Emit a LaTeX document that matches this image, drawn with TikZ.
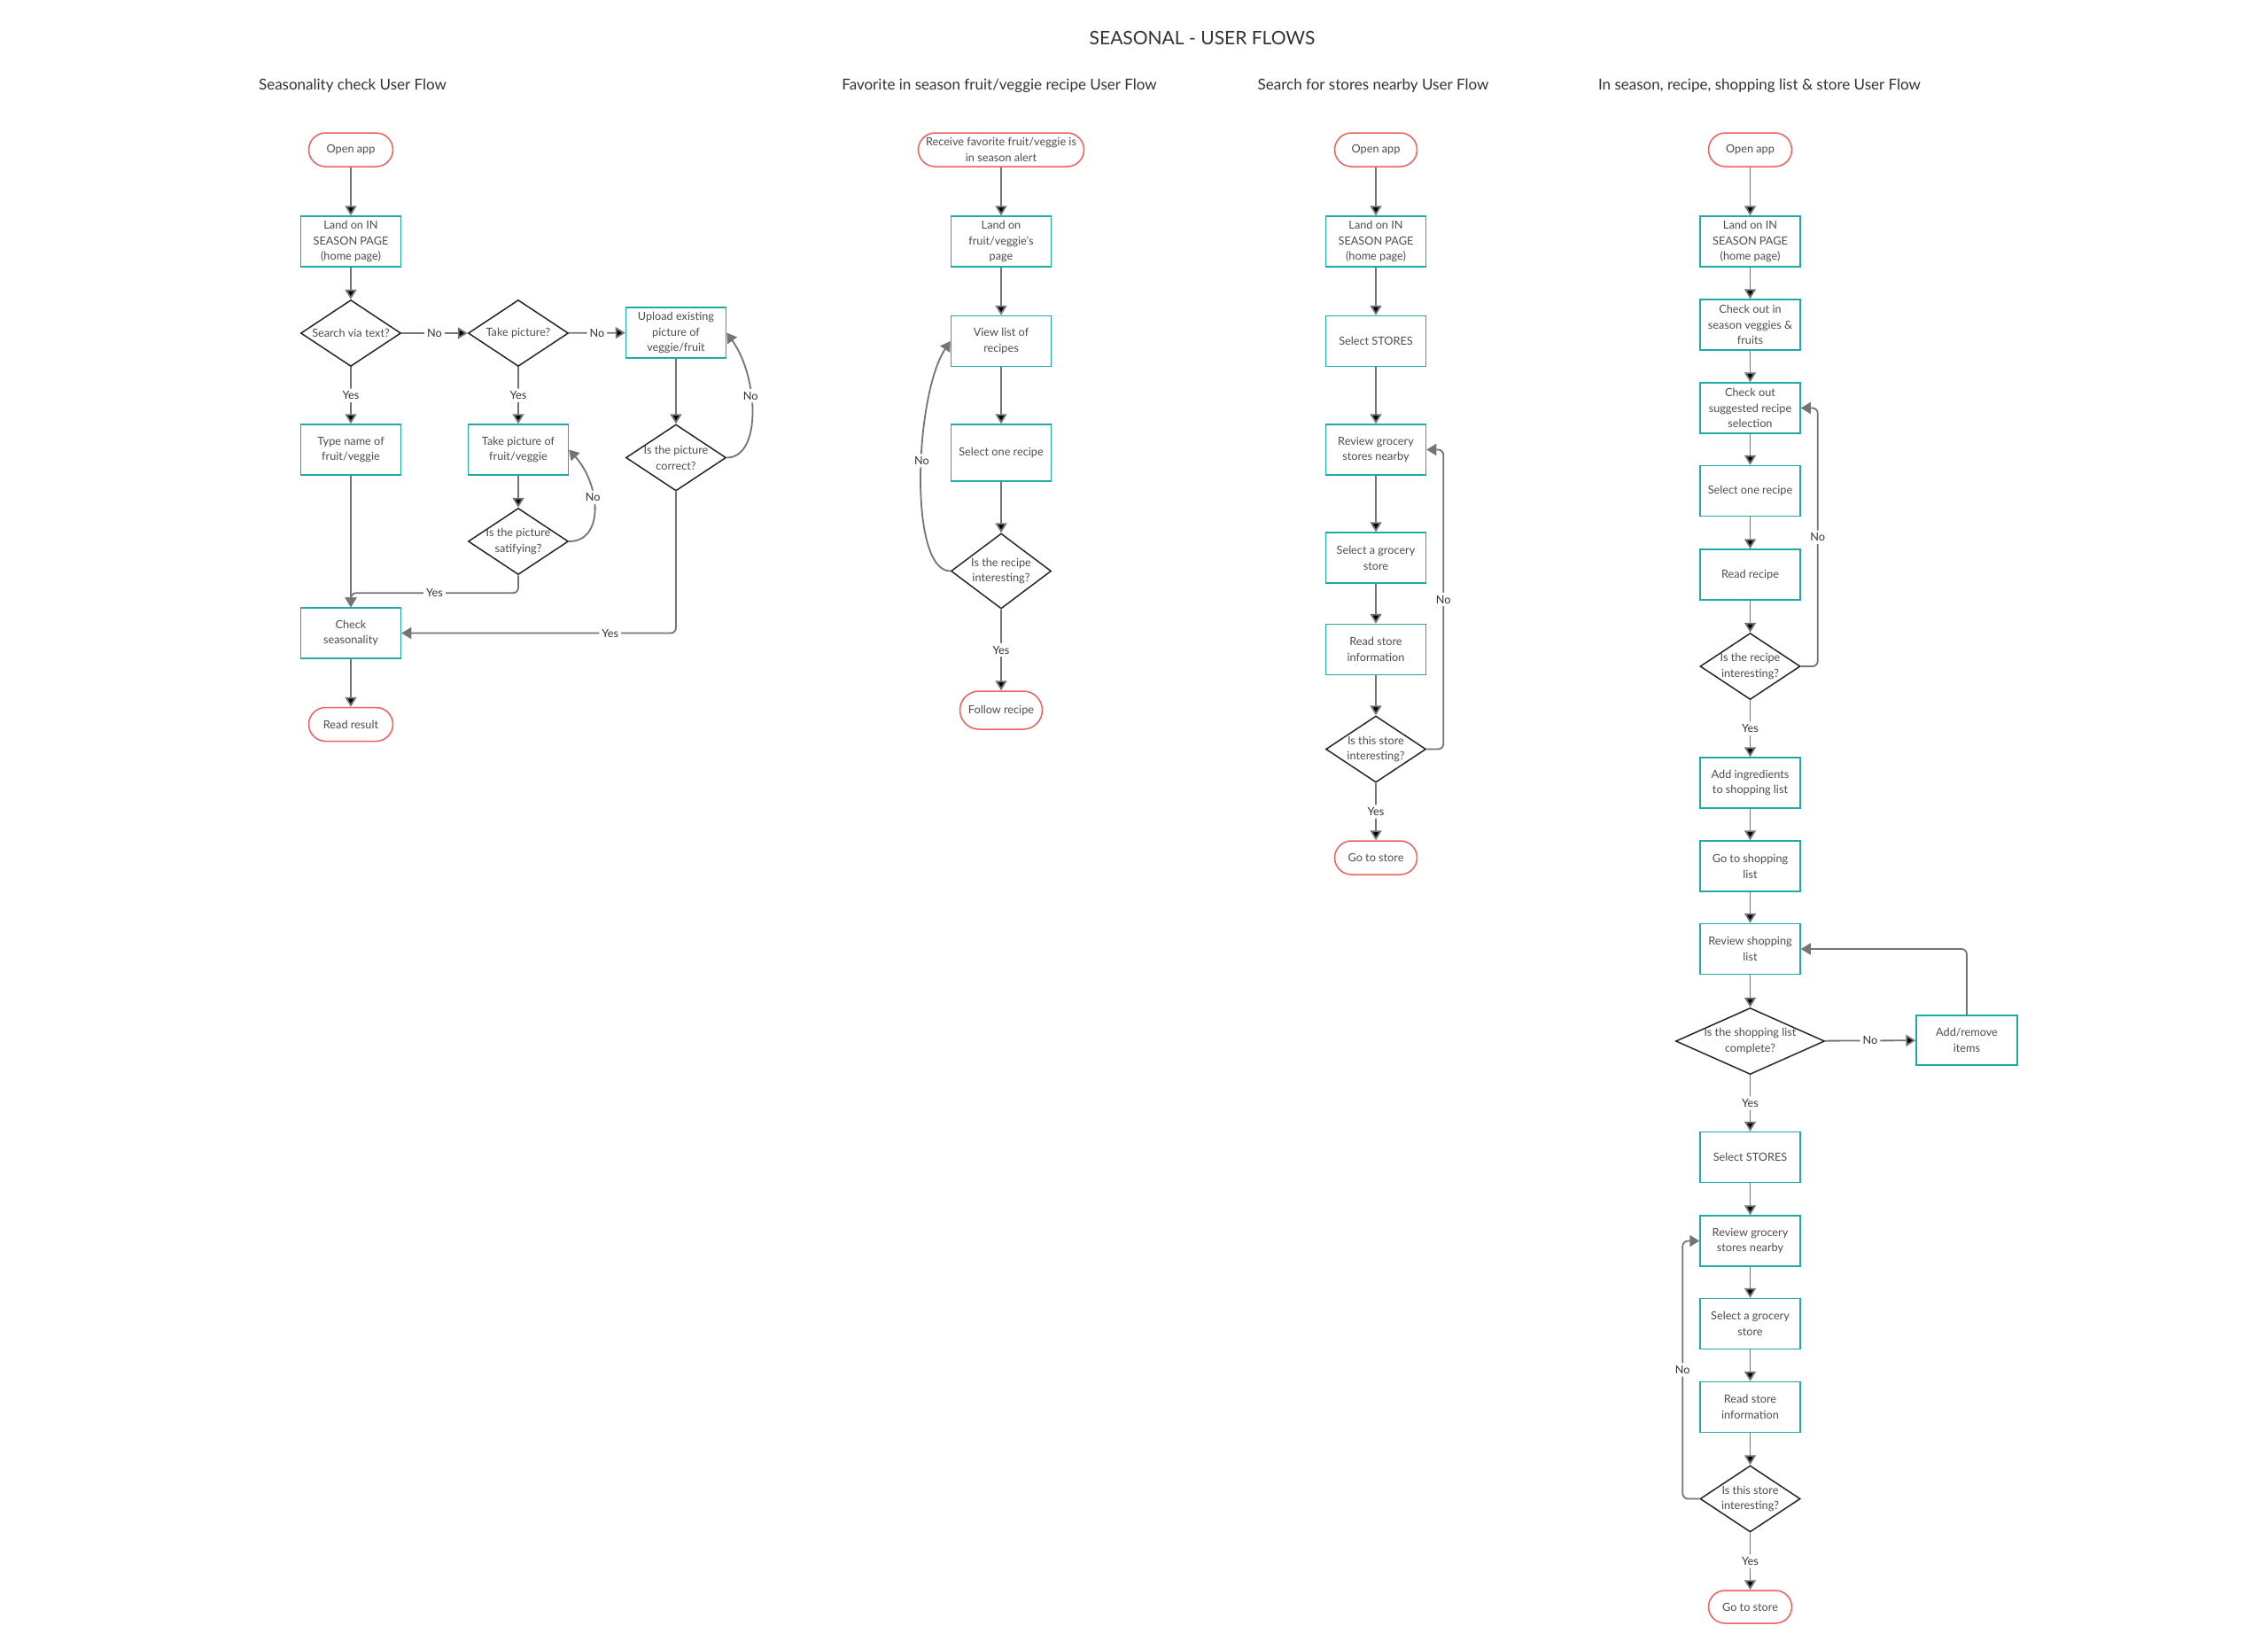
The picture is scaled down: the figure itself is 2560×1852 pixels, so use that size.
\documentclass[tikz,border=0pt]{standalone}
\usepackage{fontspec}
\setmainfont{Lato}
\usetikzlibrary{shapes.geometric,arrows.meta,calc}

\definecolor{boxteal}{HTML}{1FAAA7}
\definecolor{termred}{HTML}{F0605F}
\definecolor{linegray}{HTML}{747474}
\definecolor{txtgray}{HTML}{4D4D4D}
\definecolor{ttlgray}{HTML}{333333}

\tikzset{
  txt/.style={font=\fontsize{12.7}{17.8}\selectfont, text=txtgray, align=center},
  term/.style={txt, draw=termred, line width=1.5pt, rounded corners=19pt, minimum width=95pt, minimum height=38pt, inner sep=0pt},
  stepbox/.style={txt, draw=boxteal, line width=1.5pt, minimum width=113pt, minimum height=57pt, inner sep=0pt},
  decision/.style={diamond, draw=black!85, line width=1.5pt, minimum width=113pt, minimum height=75pt, inner sep=0pt},
  flow/.style={draw=linegray, line width=1.8pt, -{Triangle[width=13pt,length=11pt]}, rounded corners=6pt},
  lbl/.style={txt, text=ttlgray, fill=white, inner sep=3pt},
  ttl/.style={font=\fontsize{17}{20}\selectfont, text=ttlgray},
}

\begin{document}
\begin{tikzpicture}[x=1pt,y=-1pt]
\fill[white] (0,0) rectangle (2560,1852);
\useasboundingbox (0,0) rectangle (2560,1852);
%%
 \node (title) at (1357,43) [font=\fontsize{21}{24}\selectfont, text=ttlgray] {SEASONAL - USER FLOWS};
 \node (ttl_1) at (398,97) [ttl] {Seasonality check User Flow};
 \node (ttl_2) at (1128,97) [ttl] {Favorite in season fruit/veggie recipe User Flow};
 \node (ttl_3) at (1550,97) [ttl] {Search for stores nearby User Flow};
 \node (ttl_4) at (1986,97) [ttl] {In season, recipe, shopping list \& store User Flow};
%% seasonality check
 \node (f1_open) at (396,169) [term] {Open app};
 \node (f1_land) at (396,272.5) [stepbox] {Land on IN\\SEASON PAGE\\(home page)};
 \node (f1_q1) at (396,376) [decision, label={[txt]center:Search via text?}] {};
 \node (f1_q2) at (585,376) [decision, label={[txt]center:Take picture?}] {};
 \node (f1_upload) at (763,375.5) [stepbox] {Upload existing\\picture of\\veggie/fruit};
 \node (f1_type) at (396,507.5) [stepbox] {Type name of\\fruit/veggie};
 \node (f1_takepic) at (585,507.5) [stepbox] {Take picture of\\fruit/veggie};
 \node (f1_q4) at (763,516.5) [decision, label={[txt]center:Is the picture\\correct?}] {};
 \node (f1_q3) at (585,611) [decision, label={[txt]center:Is the picture\\satifying?}] {};
 \node (f1_check) at (396,714.5) [stepbox] {Check\\seasonality};
 \node (f1_read) at (396,817.5) [term] {Read result};

  \draw [flow] (f1_open) edge (f1_land);
  \draw [flow] (f1_land) edge (f1_q1);
  \draw [flow] (f1_q1) edge node[lbl] {No} (f1_q2);
  \draw [flow] (f1_q2) edge node[lbl] {No} (f1_upload);
  \draw [flow] (f1_q1) edge node[lbl] {Yes} (f1_type);
  \draw [flow] (f1_q2) edge node[lbl] {Yes} (f1_takepic);
  \draw [flow] (f1_upload) edge (f1_q4);
  \draw [flow] (f1_takepic) edge (f1_q3);
  \draw [flow] (f1_type) edge (f1_check);
  \draw [flow] (f1_check) edge (f1_read);
  \draw [flow] (f1_q4.east) .. controls ($(f1_q4.east)+(40,0)$) and ($(f1_upload.east)+(36,50)$) .. node[lbl,pos=0.6] {No} (f1_upload.east);
  \draw [flow] (f1_q3.east) .. controls ($(f1_q3.east)+(40,0)$) and ($(f1_takepic.east)+(36,40)$) .. node[lbl,pos=0.6] {No} (f1_takepic.east);
  \draw [flow] (f1_q3.south) -- ++(0,20) -| node[lbl,pos=0.25] {Yes} (f1_check.north);
  \draw [flow] (f1_q4.south) |- node[lbl,pos=0.62] {Yes} (f1_check.east);
%% favorite recipe
 \node (f2_alert) at (1130,169) [term, minimum width=187pt] {Receive favorite fruit/veggie is\\in season alert};
 \node (f2_land) at (1130,272.5) [stepbox] {Land on\\fruit/veggie's\\page};
 \node (f2_list) at (1130,385) [stepbox] {View list of\\recipes};
 \node (f2_pick) at (1130,511) [stepbox, minimum height=64pt] {Select one recipe};
 \node (f2_q) at (1130,644.5) [decision, minimum height=85pt, label={[txt]center:Is the recipe\\interesting?}] {};
 \node (f2_follow) at (1130,801.5) [term, minimum width=93pt, minimum height=43pt, rounded corners=21.5pt] {Follow recipe};

  \draw [flow] (f2_alert) edge (f2_land);
  \draw [flow] (f2_land) edge (f2_list);
  \draw [flow] (f2_list) edge (f2_pick);
  \draw [flow] (f2_pick) edge (f2_q);
  \draw [flow] (f2_q) edge node[lbl] {Yes} (f2_follow);
  \draw [flow] (f2_q.west) .. controls ($(f2_q.west)+(-48,0)$) and ($(f2_list.west)+(-40,60)$) .. node[lbl,pos=0.55] {No} (f2_list.west);
%% stores nearby
 \node (f3_open) at (1553,169) [term, minimum width=93pt] {Open app};
 \node (f3_land) at (1553,272.5) [stepbox] {Land on IN\\SEASON PAGE\\(home page)};
 \node (f3_stores) at (1553,385) [stepbox] {Select STORES};
 \node (f3_review) at (1553,507.5) [stepbox] {Review grocery\\stores nearby};
 \node (f3_select) at (1553,629.5) [stepbox] {Select a grocery\\store};
 \node (f3_info) at (1553,733) [stepbox] {Read store\\information};
 \node (f3_q) at (1553,845.5) [decision, label={[txt]center:Is this store\\interesting?}] {};
 \node (f3_go) at (1553,968) [term, minimum width=93pt] {Go to store};

  \draw [flow] (f3_open) edge (f3_land);
  \draw [flow] (f3_land) edge (f3_stores);
  \draw [flow] (f3_stores) edge (f3_review);
  \draw [flow] (f3_review) edge (f3_select);
  \draw [flow] (f3_select) edge (f3_info);
  \draw [flow] (f3_info) edge (f3_q);
  \draw [flow] (f3_q) edge node[lbl] {Yes} (f3_go);
  \draw [flow] (f3_q.east) -- ++(19,0) |- node[lbl,pos=0.25] {No} (f3_review.east);
%% shopping list & store
 \node (f4_open) at (1975.5,169) [term, minimum width=94pt] {Open app};
 \node (f4_land) at (1975.5,272.5) [stepbox] {Land on IN\\SEASON PAGE\\(home page)};
 \node (f4_check) at (1975.5,366.5) [stepbox] {Check out in\\season veggies \&\\fruits};
 \node (f4_suggest) at (1975.5,460.5) [stepbox] {Check out\\suggested recipe\\selection};
 \node (f4_pick) at (1975.5,554) [stepbox] {Select one recipe};
 \node (f4_read) at (1975.5,648.5) [stepbox] {Read recipe};
 \node (f4_q1) at (1975.5,752) [decision, label={[txt]center:Is the recipe\\interesting?}] {};
 \node (f4_add) at (1975.5,883.5) [stepbox] {Add ingredients\\to shopping list};
 \node (f4_goto) at (1975.5,977.5) [stepbox] {Go to shopping\\list};
 \node (f4_review) at (1975.5,1071) [stepbox] {Review shopping\\list};
 \node (f4_q2) at (1975.5,1175) [decision, minimum width=168pt, label={[txt]center:Is the shopping list\\complete?}] {};
 \node (f4_edit) at (2220,1174) [stepbox, minimum width=114pt, minimum height=56pt] {Add/remove\\items};
 \node (f4_stores) at (1975.5,1306) [stepbox] {Select STORES};
 \node (f4_nearby) at (1975.5,1400.5) [stepbox] {Review grocery\\stores nearby};
 \node (f4_select) at (1975.5,1494) [stepbox] {Select a grocery\\store};
 \node (f4_info) at (1975.5,1588) [stepbox] {Read store\\information};
 \node (f4_q3) at (1975.5,1691.5) [decision, label={[txt]center:Is this store\\interesting?}] {};
 \node (f4_go) at (1975.5,1813.5) [term, minimum width=94pt, minimum height=37pt, rounded corners=18.5pt] {Go to store};

  \draw [flow] (f4_open) edge (f4_land);
  \draw [flow] (f4_land) edge (f4_check);
  \draw [flow] (f4_check) edge (f4_suggest);
  \draw [flow] (f4_suggest) edge (f4_pick);
  \draw [flow] (f4_pick) edge (f4_read);
  \draw [flow] (f4_read) edge (f4_q1);
  \draw [flow] (f4_q1) edge node[lbl] {Yes} (f4_add);
  \draw [flow] (f4_add) edge (f4_goto);
  \draw [flow] (f4_goto) edge (f4_review);
  \draw [flow] (f4_review) edge (f4_q2);
  \draw [flow] (f4_q2) edge node[lbl] {No} (f4_edit);
  \draw [flow] (f4_q2) edge node[lbl] {Yes} (f4_stores);
  \draw [flow] (f4_stores) edge (f4_nearby);
  \draw [flow] (f4_nearby) edge (f4_select);
  \draw [flow] (f4_select) edge (f4_info);
  \draw [flow] (f4_info) edge (f4_q3);
  \draw [flow] (f4_q3) edge node[lbl] {Yes} (f4_go);
  \draw [flow] (f4_q1.east) -- ++(19,0) |- node[lbl,pos=0.25] {No} (f4_suggest.east);
  \draw [flow] (f4_edit.north) |- (f4_review.east);
  \draw [flow] (f4_q3.west) -- ++(-19,0) |- node[lbl,pos=0.25] {No} (f4_nearby.west);
%
\end{tikzpicture}
\end{document}
